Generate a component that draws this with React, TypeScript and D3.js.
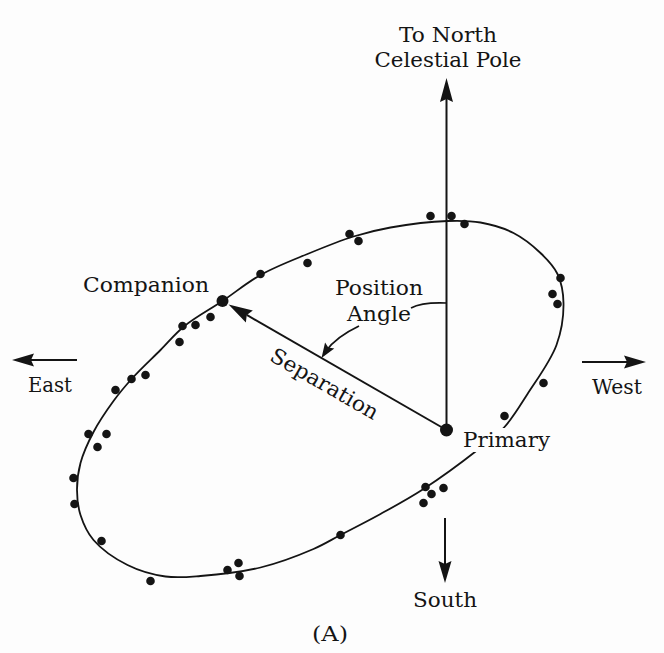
import * as d3 from "d3";

const W = 664;
const H = 653;

// offsets from the primary star, west = +x, north = +y (1 unit = 1px at this size)
const orbitTrace: [number, number][] = [
  [1, 209], [34, 207.5], [67, 197], [94, 177], [111, 156], [117, 127],
  [110, 85], [81, 36], [58, 3], [31, -20], [-23, -59],
  [-66, -84], [-106, -105], [-133, -119], [-186, -137.5], [-246, -146],
  [-281, -146.5], [-319, -135], [-353, -110], [-366, -85], [-369.5, -60],
  [-366, -33], [-353, -2], [-333, 29], [-314, 52], [-286, 80], [-262, 104],
  [-224, 129], [-186, 155], [-139, 176], [-93, 193.5], [-56, 202.5],
];

const observations: [number, number][] = [
  [-16, 214], [5, 214], [18, 206], [-97, 196], [-88, 189], [-139, 167],
  [-186, 156], [114, 152], [106, 136], [111, 126], [97, 47], [58, 14],
  [-21, -57], [-15, -64], [-3, -58], [-23, -73], [-106, -105], [-219, -140],
  [-208, -133], [-207, -146], [-296, -151], [-345, -111], [-373, -48],
  [-372, -74], [-349, -17], [-358, -4], [-340, -4], [-331, 40], [-315, 51],
  [-301, 55], [-267, 88], [-264, 104], [-251, 105], [-236, 113],
];

const primary: [number, number] = [0, 0];
const companion: [number, number] = [-224, 129];

const directions = ["To North", "Celestial Pole", "East", "West", "South"];

const x = d3.scaleLinear().domain([-446.5, 217.5]).range([0, W]);
const y = d3.scaleLinear().domain([430, -223]).range([0, H]);

const INK = "#141414";
const PAPER = "#fdfdfd";
const FONT = "'DejaVu Serif', serif";

function head(tx: number, ty: number, dx: number, dy: number, L: number, w: number, n: number) {
  const len = Math.hypot(dx, dy);
  const ux = dx / len, uy = dy / len;
  const px = -uy, py = ux;
  const bx = tx - ux * L, by = ty - uy * L;
  return `M${tx},${ty}L${bx + px * w},${by + py * w}L${tx - ux * (L - n)},${ty - uy * (L - n)}L${bx - px * w},${by - py * w}Z`;
}

function Arrow({ x1, y1, x2, y2, L = 22, w = 6.5 }: any) {
  const n = 3;
  const len = Math.hypot(x2 - x1, y2 - y1);
  const ex = x2 - ((x2 - x1) / len) * (L - n);
  const ey = y2 - ((y2 - y1) / len) * (L - n);
  return (
    <g>
      <line x1={x1} y1={y1} x2={ex} y2={ey} stroke={INK} strokeWidth={2} />
      <path d={head(x2, y2, x2 - x1, y2 - y1, L, w, n)} fill={INK} />
    </g>
  );
}

function Label({ x, y, text, len, rotate }: any) {
  return (
    <text
      x={x}
      y={y}
      textAnchor="middle"
      fontFamily={FONT}
      fontSize={21}
      fill={INK}
      textLength={len}
      lengthAdjust="spacingAndGlyphs"
      transform={rotate ? `rotate(${rotate},${x},${y})` : undefined}
    >
      {text}
    </text>
  );
}

export default function App() {
  const orbitPath = d3
    .line<[number, number]>()
    .x((d) => x(d[0]))
    .y((d) => y(d[1]))
    .curve(d3.curveCatmullRomClosed.alpha(0.5))(orbitTrace) as string;

  const px = x(primary[0]);
  const py = y(primary[1]);
  const cx = x(companion[0]);
  const cy = y(companion[1]);
  // separation arrow stops at the companion's rim
  const sl = Math.hypot(cx - px, cy - py);
  const tipX = cx + ((px - cx) / sl) * 7;
  const tipY = cy + ((py - cy) / sl) * 7;

  return (
    <svg
      width={W}
      height={H}
      style={{ position: "absolute", left: 0, top: 0, background: PAPER }}
    >
      <rect width={W} height={H} fill={PAPER} />

      <path d={orbitPath} fill="none" stroke={INK} strokeWidth={1.8} />

      {/* north line from the primary */}
      <Arrow x1={px} y1={py} x2={px} y2={78} L={24} w={6.5} />
      {/* separation */}
      <Arrow x1={px} y1={py} x2={tipX} y2={tipY} L={24} w={7} />

      {/* compass */}
      <Arrow x1={77} y1={360} x2={12} y2={360} />
      <Arrow x1={582} y1={362} x2={646} y2={362} />
      <Arrow x1={px - 1.5} y1={518} x2={px - 1.5} y2={583} />

      {/* position angle leader and curved arrow */}
      <path d={`M411,308Q422,302 ${px},303`} fill="none" stroke={INK} strokeWidth={1.6} />
      <path d="M359,326Q336,337 326,351" fill="none" stroke={INK} strokeWidth={1.8} />
      <path d={head(321.5, 358, -13, 20, 15, 5.5, 2.5)} fill={INK} />

      {observations.map((d, i) => (
        <circle key={i} cx={x(d[0])} cy={y(d[1])} r={4.3} fill={INK} />
      ))}
      <circle cx={cx} cy={cy} r={6} fill={INK} />
      <circle cx={px} cy={py} r={6.5} fill={INK} />

      <rect x={460} y={428} width={95} height={24} fill={PAPER} />

      <Label x={448} y={42} text={directions[0]} len={98} />
      <Label x={448} y={67} text={directions[1]} len={147} />
      <Label x={50} y={392} text={directions[2]} len={44} />
      <Label x={617} y={394} text={directions[3]} len={50} />
      <Label x={445} y={607} text={directions[4]} len={64} />
      <Label x={146} y={292} text="Companion" len={126} />
      <Label x={379} y={295} text="Position" len={88} />
      <Label x={379} y={321} text="Angle" len={64} />
      <Label x={321} y={390} text="Separation" len={121} rotate={30} />
      <Label x={506.5} y={447} text="Primary" len={87} />
      <Label x={330} y={641} text="(A)" len={36} />
    </svg>
  );
}
